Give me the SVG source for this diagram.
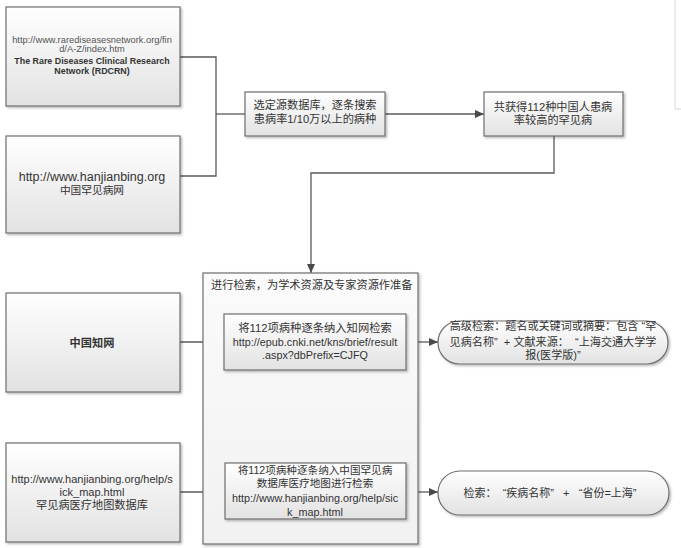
<svg xmlns="http://www.w3.org/2000/svg" width="681" height="548" viewBox="0 0 681 548">
<style>
text{font-family:"Liberation Sans","Noto Sans CJK SC",sans-serif;fill:#333;text-anchor:middle;white-space:pre}
.box{fill:url(#g);stroke:#6e6e6e;stroke-width:1.2;filter:url(#sh)}
.cont{fill:url(#g2);stroke:#6e6e6e;stroke-width:1.2;filter:url(#sh)}
.conn{fill:none;stroke:#5a5a5a;stroke-width:1.3}
.t11{font-size:11.2px}
.url{fill:#555}
</style>
<defs>
<linearGradient id="g" x1="0" y1="0" x2="0" y2="1"><stop offset="0" stop-color="#ffffff"/><stop offset="1" stop-color="#e2e2e2"/></linearGradient>
<linearGradient id="g2" x1="0" y1="0" x2="0" y2="1"><stop offset="0" stop-color="#fbfbfb"/><stop offset="1" stop-color="#f1f1f1"/></linearGradient>
<filter id="sh" x="-5%" y="-5%" width="115%" height="120%"><feDropShadow dx="1.5" dy="1.5" stdDeviation="1.2" flood-color="#000" flood-opacity="0.28"/></filter>
<marker id="ar" markerUnits="userSpaceOnUse" markerWidth="10" markerHeight="10" refX="9" refY="4" orient="auto"><path d="M0,0 L9,4 L0,8 Z" fill="#4a4a4a"/></marker>
</defs>
<path d="M675,0 V109 H681" fill="none" stroke="#d6d6d6" stroke-width="1"/>
<g id="connectors">
<path class="conn" d="M180,57 H216 V176 H180"/>
<path class="conn" d="M216,114 H245"/>
<path class="conn" d="M385,114 H484" marker-end="url(#ar)"/>
<path class="conn" d="M554,136 V173 H311 V273" marker-end="url(#ar)"/>
<path class="conn" d="M180,342 H224" marker-end="url(#ar)"/>
<path class="conn" d="M406,342 H438" marker-end="url(#ar)"/>
<path class="conn" d="M180,492 H225" marker-end="url(#ar)"/>
<path class="conn" d="M406,492 H438" marker-end="url(#ar)"/>
</g>
<g id="rdcrn">
<rect class="box" x="6" y="7" width="174" height="99"/>
<text x="92" y="43" class="url" font-size="9.3">http://www.rarediseasesnetwork.org/fin</text>
<text x="92" y="52" class="url" font-size="9.3">d/A-Z/index.htm</text>
<text x="92" y="64" font-size="8.9" font-weight="bold">The Rare Diseases Clinical Research</text>
<text x="92" y="74" font-size="8.9" font-weight="bold">Network (RDCRN)</text>
</g>
<g id="hanjianbing">
<rect class="box" x="6" y="136" width="174" height="97"/>
<text x="92" y="181" font-size="12.5">http://www.hanjianbing.org</text>
<text x="92" y="194" font-size="10.7">中国罕见病网</text>
</g>
<g id="select">
<rect class="box" x="245" y="92" width="140" height="44"/>
<text x="315" y="109" class="t11">选定源数据库，逐条搜索</text>
<text x="315" y="123" class="t11">患病率1/10万以上的病种</text>
</g>
<g id="result112">
<rect class="box" x="484" y="92" width="139" height="44"/>
<text x="553" y="111" class="t11">共获得112种中国人患病</text>
<text x="553" y="124" class="t11">率较高的罕见病</text>
</g>
<g id="container">
<rect class="cont" x="203" y="273" width="215" height="271"/>
<text x="211" y="289" class="t11" style="text-anchor:start">进行检索，为学术资源及专家资源作准备</text>
</g>
<g id="cnki">
<rect class="box" x="6" y="293" width="174" height="99"/>
<text x="92" y="347" font-size="11.2" font-weight="bold">中国知网</text>
</g>
<g id="sickmap">
<rect class="box" x="6" y="443" width="174" height="99"/>
<text x="92" y="483" font-size="11">http://www.hanjianbing.org/help/s</text>
<text x="92" y="496" font-size="11">ick_map.html</text>
<text x="92" y="509" font-size="11.2">罕见病医疗地图数据库</text>
</g>
<g id="cnkisearch">
<rect class="box" x="224" y="314" width="182" height="56"/>
<text x="315" y="332" font-size="11.3">将112项病种逐条纳入知网检索</text>
<text x="315" y="346" font-size="10.8">http://epub.cnki.net/kns/brief/result</text>
<text x="315" y="359" font-size="10.8">.aspx?dbPrefix=CJFQ</text>
</g>
<g id="mapsearch">
<rect class="box" x="225" y="463" width="181" height="56"/>
<text x="315" y="474" font-size="10.6">将112项病种逐条纳入中国罕见病</text>
<text x="315" y="487" font-size="10.6">数据库医疗地图进行检索</text>
<text x="315" y="502" font-size="10.8">http://www.hanjianbing.org/help/sic</text>
<text x="315" y="516" font-size="10.8">k_map.html</text>
</g>
<g id="advanced">
<rect class="box" x="438" y="321" width="230" height="43" rx="21.5"/>
<text x="553" y="330" font-size="11.1">高级检索：题名或关键词或摘要：包含 “罕</text>
<text x="553" y="346" font-size="11.1">见病名称”  + 文献来源：  “上海交通大学学</text>
<text x="553" y="359" font-size="11.1">报(医学版)”</text>
</g>
<g id="mapquery">
<rect class="box" x="438" y="471" width="231" height="44" rx="22"/>
<text x="550" y="497" font-size="11">检索：  “疾病名称”   +   “省份=上海”</text>
</g>
</svg>
